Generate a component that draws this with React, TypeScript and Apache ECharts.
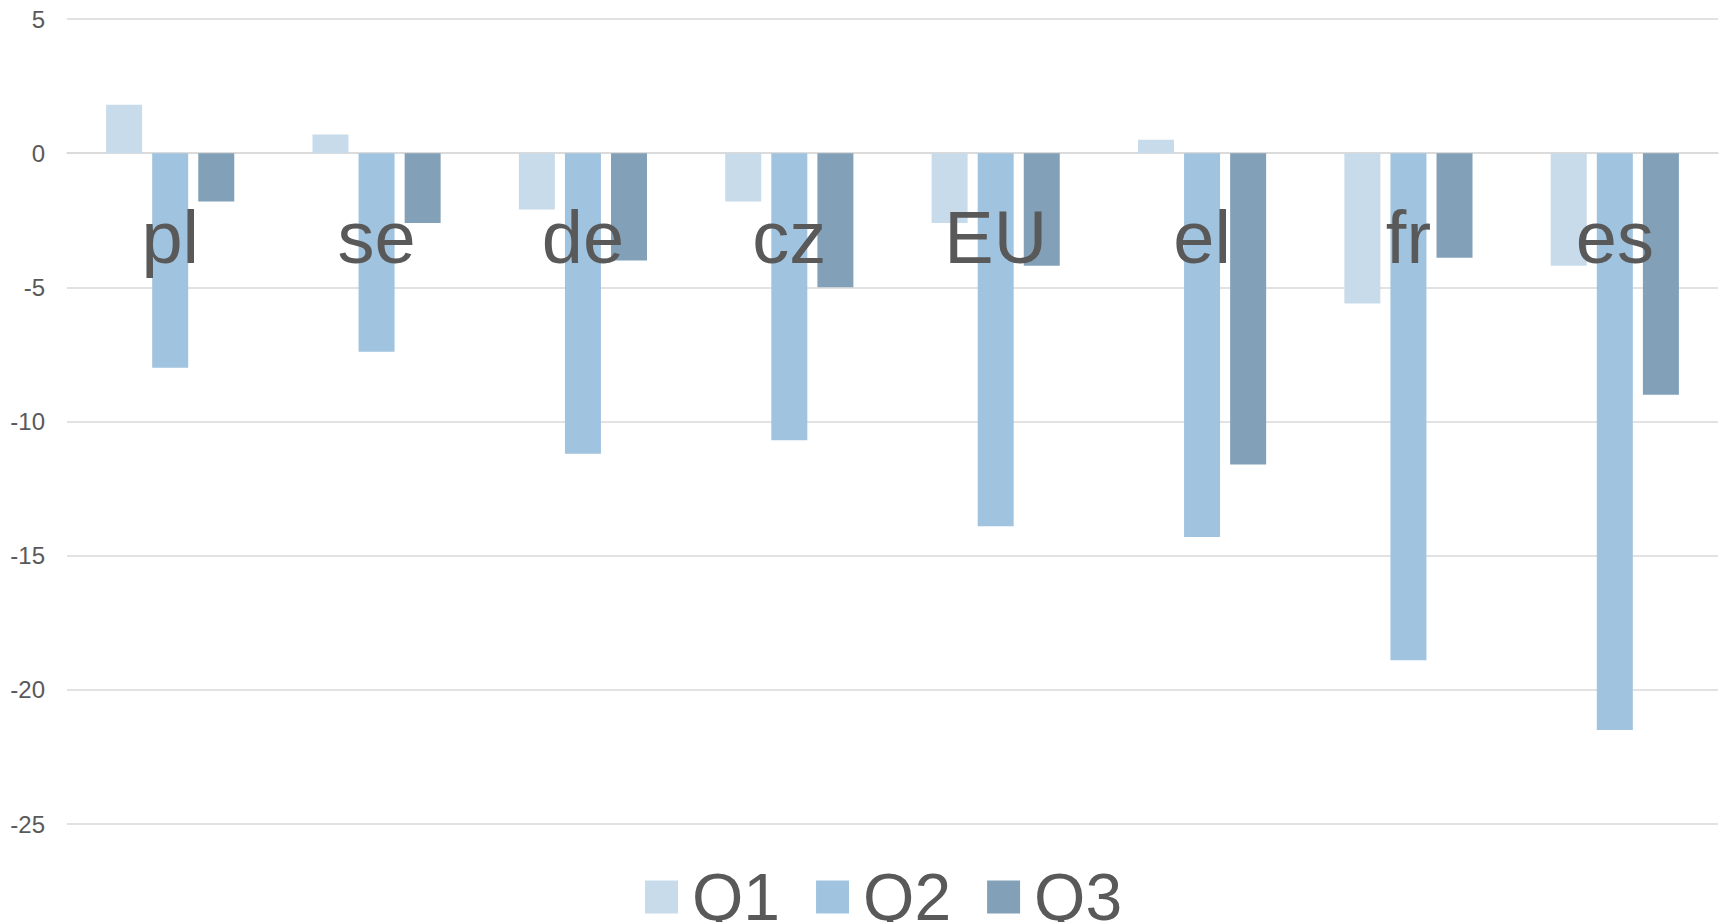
import React, { useEffect, useRef } from "react";
import * as echarts from "echarts";

const categories = ["pl", "se", "de", "cz", "EU", "el", "fr", "es"];
const q1Values = [1.8, 0.7, -2.1, -1.8, -2.6, 0.5, -5.6, -4.2];
const q2Values = [-8.0, -7.4, -11.2, -10.7, -13.9, -14.3, -18.9, -21.5];
const q3Values = [-1.8, -2.6, -4.0, -5.0, -4.2, -11.6, -3.9, -9.0];
const seriesNames = ["Q1", "Q2", "Q3"];
const seriesColors = ["#C8DBEA", "#A0C3DF", "#82A1B8"];
const yMin = -25;
const yMax = 5;
const yStep = 5;

const FONT = "'Liberation Sans', Arial, sans-serif";
const TEXT = "#595959";

export default function App() {
  const ref = useRef<HTMLDivElement>(null);

  useEffect(() => {
    if (!ref.current) return;
    const chart = echarts.init(ref.current, undefined, { renderer: "svg" });
    const values = [q1Values, q2Values, q3Values];
    chart.setOption({
      animation: false,
      backgroundColor: "#ffffff",
      textStyle: { fontFamily: FONT },
      grid: {
        left: 67,
        right: 7,
        top: 19,
        bottom: 98,
        containLabel: false,
        outerBoundsMode: "none",
      },
      legend: {
        data: seriesNames,
        left: 640,
        top: 859,
        icon: "rect",
        itemWidth: 33,
        itemHeight: 33,
        itemGap: 36,
        textStyle: {
          fontSize: 66,
          color: TEXT,
          fontFamily: FONT,
          padding: [0, 0, 0, 9],
        },
      },
      xAxis: {
        type: "category",
        data: categories,
        axisLine: { show: true, onZero: true, lineStyle: { color: "#D9D9D9", width: 1.5 } },
        axisTick: { show: false },
        axisLabel: { show: false },
        splitLine: { show: false },
      },
      yAxis: {
        type: "value",
        min: yMin,
        max: yMax,
        interval: yStep,
        axisLine: { show: false },
        axisTick: { show: false },
        axisLabel: { fontSize: 24, color: TEXT, fontFamily: FONT, margin: 22 },
        splitLine: { show: true, lineStyle: { color: "#D9D9D9", width: 1.5 } },
      },
      series: [
        ...seriesNames.map((name, i) => ({
          name,
          type: "bar",
          data: values[i],
          barWidth: 36,
          barGap: "28%",
          itemStyle: { color: seriesColors[i] },
        })),
        {
          name: "labels",
          type: "custom",
          z: 10,
          silent: true,
          data: categories.map((_, i) => [i, 0]),
          renderItem: (params: any, api: any) => {
            const p = api.coord([api.value(0), api.value(1)]);
            return {
              type: "text",
              x: p[0],
              y: p[1] + 47,
              style: {
                text: categories[params.dataIndex],
                fontSize: 74,
                fontFamily: FONT,
                fill: TEXT,
                align: "center",
                verticalAlign: "top",
              },
            };
          },
        },
      ],
    });
    return () => chart.dispose();
  }, []);

  return (
    <div
      ref={ref}
      style={{ position: "fixed", left: 0, top: 0, width: 1725, height: 922 }}
    />
  );
}
